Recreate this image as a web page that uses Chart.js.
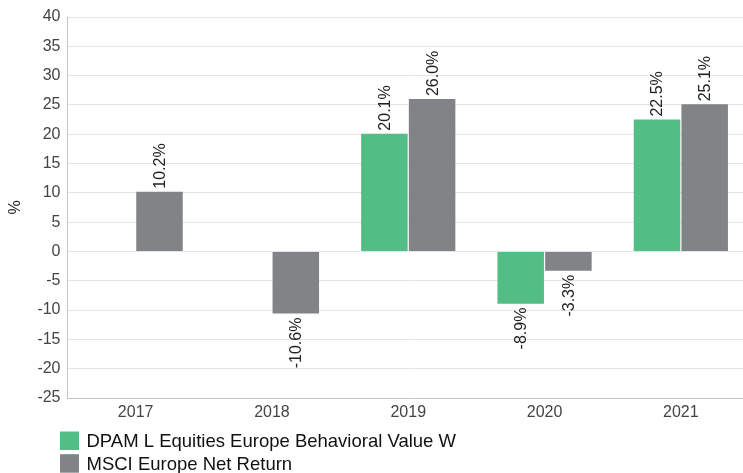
<!DOCTYPE html>
<html>
<head>
<meta charset="utf-8">
<script src="https://cdn.jsdelivr.net/npm/chart.js@4/dist/chart.umd.min.js"></script>
<style>
  html, body { margin: 0; padding: 0; overflow: hidden; background: #fff; }
  #wrap { position: relative; width: 749px; height: 473px; }
</style>
</head>
<body>
<div id="wrap"><canvas id="c"></canvas></div>
<script>
const categories = ['2017', '2018', '2019', '2020', '2021'];
const fundLabel = 'DPAM L Equities Europe Behavioral Value W';
const indexLabel = 'MSCI Europe Net Return';
const fundValues = [null, null, 20.1, -8.9, 22.5];
const indexValues = [10.2, -10.6, 26.0, -3.3, 25.1];
const yTicks = [40, 35, 30, 25, 20, 15, 10, 5, 0, -5, -10, -15, -20, -25];

const GREEN = '#52bd84';
const GRAY = '#828387';
const FONT = '"Liberation Sans", Arial, sans-serif';

const valueLabels = {
  id: 'valueLabels',
  afterDatasetsDraw(chart) {
    const ctx = chart.ctx;
    ctx.save();
    ctx.font = '16px ' + FONT;
    ctx.fillStyle = '#222';
    ctx.textBaseline = 'middle';
    chart.data.datasets.forEach((ds, di) => {
      const meta = chart.getDatasetMeta(di);
      meta.data.forEach((bar, i) => {
        const v = ds.data[i];
        if (v === null || v === undefined) return;
        const txt = v.toFixed(1) + '%';
        ctx.save();
        if (v >= 0) {
          ctx.translate(bar.x + 1, bar.y - 3);
          ctx.rotate(-Math.PI / 2);
          ctx.textAlign = 'left';
        } else {
          ctx.translate(bar.x + 1, bar.y + 4);
          ctx.rotate(-Math.PI / 2);
          ctx.textAlign = 'right';
        }
        ctx.fillText(txt, 0, 0);
        ctx.restore();
      });
    });
    ctx.restore();
  }
};

const customLegend = {
  id: 'customLegend',
  afterDraw(chart) {
    const ctx = chart.ctx;
    ctx.save();
    ctx.font = '18.5px ' + FONT;
    ctx.textBaseline = 'middle';
    ctx.textAlign = 'left';
    chart.data.datasets.forEach((ds, i) => {
      const y = 431.5 + i * 22.7;
      ctx.fillStyle = ds.backgroundColor;
      ctx.fillRect(60, y, 19, 18.5);
      ctx.fillStyle = '#111';
      ctx.fillText(ds.label, 86.5, y + 10.5);
    });
    ctx.restore();
  }
};

new Chart(document.getElementById('c'), {
  type: 'bar',
  data: {
    labels: categories,
    datasets: [
      { label: fundLabel, data: fundValues, backgroundColor: GREEN, borderWidth: 0 },
      { label: indexLabel, data: indexValues, backgroundColor: GRAY, borderWidth: 0 }
    ]
  },
  options: {
    responsive: true,
    maintainAspectRatio: false,
    animation: false,
    devicePixelRatio: 1,
    layout: { padding: { top: 17, right: 0, bottom: 45, left: 0 } },
    datasets: { bar: { categoryPercentage: 0.7, barPercentage: 0.975 } },
    plugins: {
      legend: { display: false },
      tooltip: { enabled: false }
    },
    scales: {
      x: {
        grid: { display: false, drawTicks: false },
        border: { display: true, color: '#c4c4c4', width: 1 },
        ticks: { color: '#444', font: { family: FONT, size: 16 }, padding: 5 },
        afterFit(scale) { scale.height = 30; }
      },
      y: {
        min: -25,
        max: 40,
        afterBuildTicks(scale) { scale.ticks = yTicks.map(v => ({ value: v })); },
        grid: { color: '#e4e4e4', drawTicks: false },
        border: { display: true, color: '#c4c4c4', width: 1 },
        ticks: { color: '#444', font: { family: FONT, size: 16 }, padding: 7 },
        title: { display: true, text: '%', color: '#222', font: { family: FONT, size: 16 }, padding: { top: 6, bottom: 0 } },
        afterFit(scale) { scale.width = 67.5; }
      }
    }
  },
  plugins: [valueLabels, customLegend]
});
</script>
</body>
</html>
